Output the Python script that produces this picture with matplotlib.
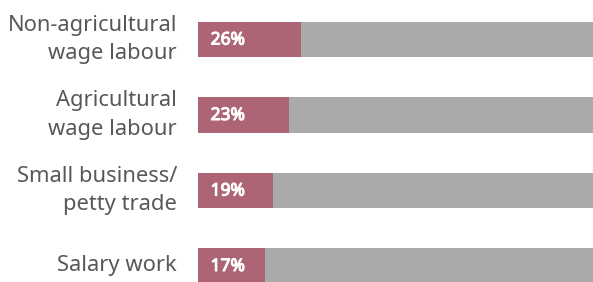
import matplotlib.pyplot as plt
import matplotlib.patheffects as pe
import numpy as np

# Data #
categories = ['Non-agricultural\nwage labour', 'Agricultural\nwage labour',
              'Small business/\npetty trade', 'Salary work']
shares = [26, 23, 19, 17]
total = 100

# Open Sans here is a variable font that renders condensed, Noto Sans is close
plt.rcParams['font.family'] = ['Noto Sans', 'DejaVu Sans']

fig = plt.figure(figsize=(5.93, 2.82), dpi=100)
ax = fig.add_axes([198 / 593, 0, 395 / 593, 1])

y = np.arange(len(categories))
ax.barh(y, [total] * len(categories), height=0.47, color='#aaaaaa')
ax.barh(y, shares, height=0.47, color='#ad6575')

# fake bold with a thin stroke (no bold face available)
bold = [pe.withStroke(linewidth=0.8, foreground='white')]
for i, (cat, val) in enumerate(zip(categories, shares)):
    ax.text(3.2, i, f'{val}%', color='white', fontsize=12.5, ha='left',
            va='center', path_effects=bold)
    ax.text(-5.3, i, cat, color='#585858', fontsize=15.8, ha='right',
            va='center', linespacing=1.45)

ax.set_xlim(0, total)
ax.set_ylim(3.212, -0.523)
ax.axis('off')

fig.savefig('out.png', dpi=100)
